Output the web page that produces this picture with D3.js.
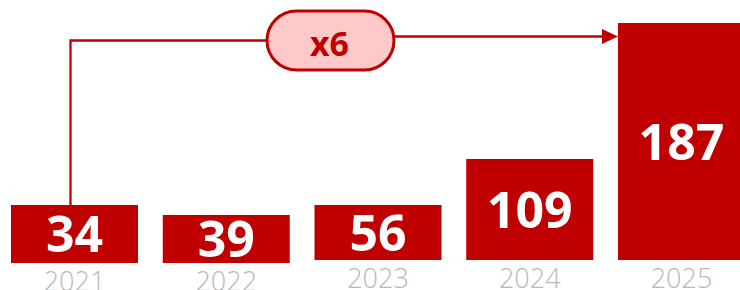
<!DOCTYPE html>
<html>
<head>
<meta charset="utf-8">
<script src="https://cdn.jsdelivr.net/npm/d3@7"></script>
<style>
  html, body { margin: 0; padding: 0; background: #fff; }
  svg { display: block; }
</style>
</head>
<body>
<div id="chart"></div>
<script>
// Chart data
const years = ["2021", "2022", "2023", "2024", "2025"];
const values = [34, 39, 56, 109, 187];
// the boxes are not drawn to scale in the original; their extents (in chart units)
const barFrom = [0, 0, 3, 3, 3];
const barTo = [58, 48, 58, 104, 240];
const growthLabel = "x6";

const width = 740;
const height = 290;
const red = "#c00000";

const svg = d3
  .select("#chart")
  .append("svg")
  .attr("width", width)
  .attr("height", height);

// Scales
const x = d3
  .scaleBand()
  .domain(years)
  .range([11, 745])
  .paddingInner(0.163)
  .paddingOuter(0);

const y = d3.scaleLinear().domain([0, 240]).range([263, 23]);

const rows = years.map((year, i) => ({
  year: year,
  value: values[i],
  from: barFrom[i],
  to: barTo[i],
}));

// Bars
svg
  .selectAll(".bar")
  .data(rows)
  .enter()
  .append("rect")
  .attr("class", "bar")
  .attr("x", (d) => x(d.year))
  .attr("y", (d) => y(d.to))
  .attr("width", x.bandwidth())
  .attr("height", (d) => y(d.from) - y(d.to))
  .style("fill", red);

// Value labels inside bars
svg
  .selectAll(".value")
  .data(rows)
  .enter()
  .append("text")
  .attr("class", "value")
  .attr("x", (d) => x(d.year) + x.bandwidth() / 2)
  .attr("y", (d) => (y(d.from) + y(d.to)) / 2)
  .attr("dy", "0.36em")
  .attr("text-anchor", "middle")
  .style("font-family", "'Open Sans', sans-serif")
  .style("font-weight", 700)
  .style("font-size", "50px")
  .style("fill", "#fff")
  .text((d) => d.value);

// Year labels under bars
svg
  .selectAll(".year")
  .data(rows)
  .enter()
  .append("text")
  .attr("class", "year")
  .attr("x", (d) => x(d.year) + x.bandwidth() / 2)
  .attr("y", (d) => y(d.from) + 28)
  .attr("text-anchor", "middle")
  .style("font-family", "'Open Sans', sans-serif")
  .style("font-weight", 300)
  .style("font-size", "27px")
  .style("fill", "#b8b8b8")
  .text((d) => d.year);

// Growth arrow from first to last bar
const first = rows[0];
const last = rows[rows.length - 1];
const startX = x(first.year) + x.bandwidth() / 2 - 4;
const endX = x(last.year);
const pillCx = x("2023") + 16;
const pillCy = 40.5;
const pillW = 127;
const pillH = 59;

svg
  .append("path")
  .attr(
    "d",
    `M${startX},${y(first.to)} V${pillCy} H${pillCx - pillW / 2}`
  )
  .style("fill", "none")
  .style("stroke", red)
  .style("stroke-width", 2.3);

svg
  .append("line")
  .attr("x1", pillCx + pillW / 2)
  .attr("x2", endX - 15)
  .attr("y1", 36.5)
  .attr("y2", 36.5)
  .style("stroke", red)
  .style("stroke-width", 2.3);

svg
  .append("path")
  .attr("d", `M${endX},36.5 L${endX - 16},29 L${endX - 16},44 Z`)
  .style("fill", red);

svg
  .append("rect")
  .attr("x", pillCx - pillW / 2)
  .attr("y", pillCy - pillH / 2)
  .attr("width", pillW)
  .attr("height", pillH)
  .attr("rx", pillH / 2)
  .style("fill", "#ffc9c9")
  .style("stroke", red)
  .style("stroke-width", 3);

svg
  .append("text")
  .attr("x", pillCx - 1)
  .attr("y", 55.5)
  .attr("text-anchor", "middle")
  .style("font-family", "'Open Sans', sans-serif")
  .style("font-weight", 700)
  .style("font-size", "34px")
  .style("fill", red)
  .text(growthLabel);
</script>
</body>
</html>
